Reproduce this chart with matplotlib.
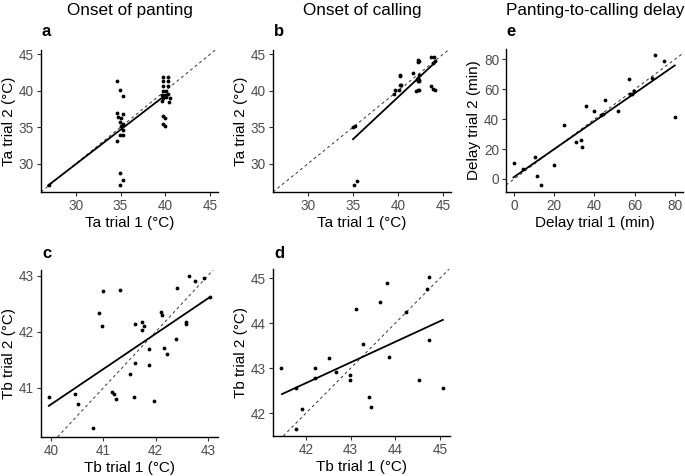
import matplotlib
matplotlib.use("Agg")
import matplotlib.pyplot as plt
import numpy as np

plt.rcParams["font.family"] = ["Liberation Sans", "DejaVu Sans"]

# ---- panel a: onset of panting, Ta ----
a_x = [27.0, 34.63, 34.94, 35.27, 34.63, 35.27, 34.7, 35.1, 34.94, 35.27, 35.0, 35.3, 35.3, 34.95, 34.63,
       34.94, 35.27, 34.94,
       39.8, 40.3, 39.7, 40.3, 39.8, 40.3, 39.7, 40.1, 39.6, 39.97, 40.34, 39.7, 40.05, 40.5, 39.6, 40.45,
       39.8, 39.95, 39.75, 39.95]
a_y = [27.0, 41.4, 40.1, 39.35, 36.9, 36.8, 36.4, 36.2, 35.75, 35.5, 35.1, 34.65, 33.9, 33.9, 33.15,
       28.7, 27.75, 27.05,
       41.96, 41.96, 41.3, 41.3, 40.7, 40.7, 40.0, 40.0, 39.4, 39.4, 39.5, 39.0, 39.1, 39.0, 38.6, 38.5,
       36.5, 36.3, 35.45, 35.1]
a_fit_x = [26.9, 39.7]
a_fit_y = [27.0, 39.1]

# ---- panel b: onset of calling, Ta ----
b_x = [35.08, 35.4, 35.0, 35.27,
       42.2, 42.3, 44.0, 43.7, 43.9, 44.1, 41.7, 42.2, 42.3, 40.2, 40.3, 40.1, 39.6, 39.7, 42.2, 42.3, 42.05,
       43.7, 43.9, 44.1, 40.2, 40.25, 42.1, 42.2, 42.35, 42.2, 42.3]
b_y = [27.06, 27.65, 35.08, 35.1,
       44.26, 44.1, 44.7, 44.6, 43.8, 44.1, 42.5, 41.8, 41.5, 42.1, 40.8, 40.1, 39.6, 40.1, 40.1, 40.15, 40.0,
       40.6, 40.2, 40.05, 42.05, 40.8, 41.6, 41.3, 41.4, 44.0, 42.1]
b_fit_x = [35.0, 44.05]
b_fit_y = [33.35, 43.8]

# ---- panel e: panting-to-calling delay ----
e_x = [0.0, 4.3, 10.4, 11.2, 13.6, 19.75, 24.9, 30.9, 33.1, 33.9, 35.6, 39.7, 43.3, 44.5, 45.4, 51.7,
       57.3, 57.9, 58.6, 59.75, 68.6, 70.4, 74.6, 80.0]
e_y = [10.4, 6.7, 14.5, 2.2, -4.0, 9.3, 36.0, 24.9, 26.4, 21.6, 48.9, 45.3, 42.7, 43.3, 52.7, 45.3,
       66.7, 56.7, 57.0, 58.9, 67.8, 83.1, 78.9, 41.5]
e_fit_x = [-0.3, 80.0]
e_fit_y = [1.1, 76.0]

# ---- panel c: onset of panting, Tb ----
c_x = [39.97, 40.46, 40.52, 40.99, 41.32, 40.92, 40.98, 41.16, 41.2, 41.24, 41.5, 41.58, 41.6, 41.6,
       41.73, 41.78, 41.74, 41.87, 41.87, 41.97, 42.1, 42.13, 42.15, 42.21, 42.38, 42.4, 42.57, 42.57,
       42.63, 42.75, 42.93, 43.04, 40.81]
c_y = [40.83, 40.89, 40.72, 42.73, 42.74, 42.34, 42.1, 40.92, 40.89, 40.81, 41.24, 40.83, 42.13, 41.45,
       42.17, 42.11, 42.04, 41.7, 41.41, 40.76, 42.35, 42.29, 41.71, 41.61, 41.87, 42.78, 42.18, 42.13,
       42.99, 42.91, 42.95, 42.62, 40.28]
c_fit_x = [39.96, 43.04]
c_fit_y = [40.68, 42.62]

# ---- panel d: onset of calling, Tb ----
d_x = [41.44, 41.78, 41.91, 41.78, 42.2, 42.2, 42.51, 42.67, 42.99, 42.99, 43.12, 43.28, 43.4, 43.45,
       43.66, 43.8, 43.86, 44.24, 44.53, 44.7, 44.75, 44.76, 45.07]
d_y = [43.01, 41.64, 42.09, 42.56, 43.01, 42.77, 43.22, 42.92, 42.85, 42.74, 44.31, 43.54, 42.36, 42.13,
       44.46, 44.9, 43.24, 44.24, 42.73, 44.75, 45.03, 43.62, 42.56]
d_fit_x = [41.46, 45.06]
d_fit_y = [42.42, 44.07]

W, H = 685, 476
fig = plt.figure(figsize=(W / 100, H / 100), dpi=100)


def box(l, r, t, b):
    return [l / W, 1 - b / H, (r - l) / W, (b - t) / H]


def panel(rect, x, y, fx, fy, xlim, ylim, xticks, yticks, xlabel, ylabel):
    ax = fig.add_axes(rect)
    ax.axline((0, 0), slope=1, color="#333333", lw=0.7, ls=(0, (3, 3)), zorder=1)
    ax.plot(fx, fy, color="black", lw=1.3, zorder=2)
    ax.scatter(x, y, s=7.5, color="black", zorder=3, linewidths=0)
    ax.set_xlim(*xlim)
    ax.set_ylim(*ylim)
    ax.set_xticks(xticks)
    ax.set_yticks(yticks)
    for s in ["top", "right"]:
        ax.spines[s].set_visible(False)
    for s in ["left", "bottom"]:
        ax.spines[s].set_linewidth(1.0)
    ax.tick_params(length=3, width=0.8, color="#333333", labelsize=9.8, labelcolor="#4D4D4D", pad=2)
    ax.set_xlabel(xlabel, fontsize=11, labelpad=2)
    ax.set_ylabel(ylabel, fontsize=11, labelpad=2)
    return ax


ta_ticks = [30, 35, 40, 45]
panel(box(41, 218, 50, 192), a_x, a_y, a_fit_x, a_fit_y, (26.1, 45.9), (26.1, 45.6),
      ta_ticks, ta_ticks, "Ta trial 1 (°C)", "Ta trial 2 (°C)")
panel(box(273, 451, 50, 192), b_x, b_y, b_fit_x, b_fit_y, (26.1, 45.9), (26.1, 45.6),
      ta_ticks, ta_ticks, "Ta trial 1 (°C)", "Ta trial 2 (°C)")
panel(box(506, 683, 49, 192), e_x, e_y, e_fit_x, e_fit_y, (-4.05, 84.1), (-8.7, 87.0),
      [0, 20, 40, 60, 80], [0, 20, 40, 60, 80], "Delay trial 1 (min)", "Delay trial 2 (min)")
panel(box(41, 218, 270, 437), c_x, c_y, c_fit_x, c_fit_y, (39.81, 43.19), (40.125, 43.1),
      [40, 41, 42, 43], [41, 42, 43], "Tb trial 1 (°C)", "Tb trial 2 (°C)")
panel(box(273, 450, 269, 436), d_x, d_y, d_fit_x, d_fit_y, (41.26, 45.22), (41.49, 45.2),
      [42, 43, 44, 45], [42, 43, 44, 45], "Tb trial 1 (°C)", "Tb trial 2 (°C)")

titles = ["Onset of panting", "Onset of calling", "Panting-to-calling delay"]
title_x = [130, 362, 595]
for t, xc in zip(titles, title_x):
    fig.text(xc / W, 1 - 11 / H, t, ha="center", va="center", fontsize=12.3)

letters = ["a", "b", "e", "c", "d"]
letter_pos = [(42, 32), (274, 32), (506, 32), (42, 253), (274, 253)]
for lt, (lx, ly) in zip(letters, letter_pos):
    fig.text(lx / W, 1 - ly / H, lt, ha="left", va="center", fontsize=12, fontweight="bold")

fig.savefig("out.png", dpi=100)
